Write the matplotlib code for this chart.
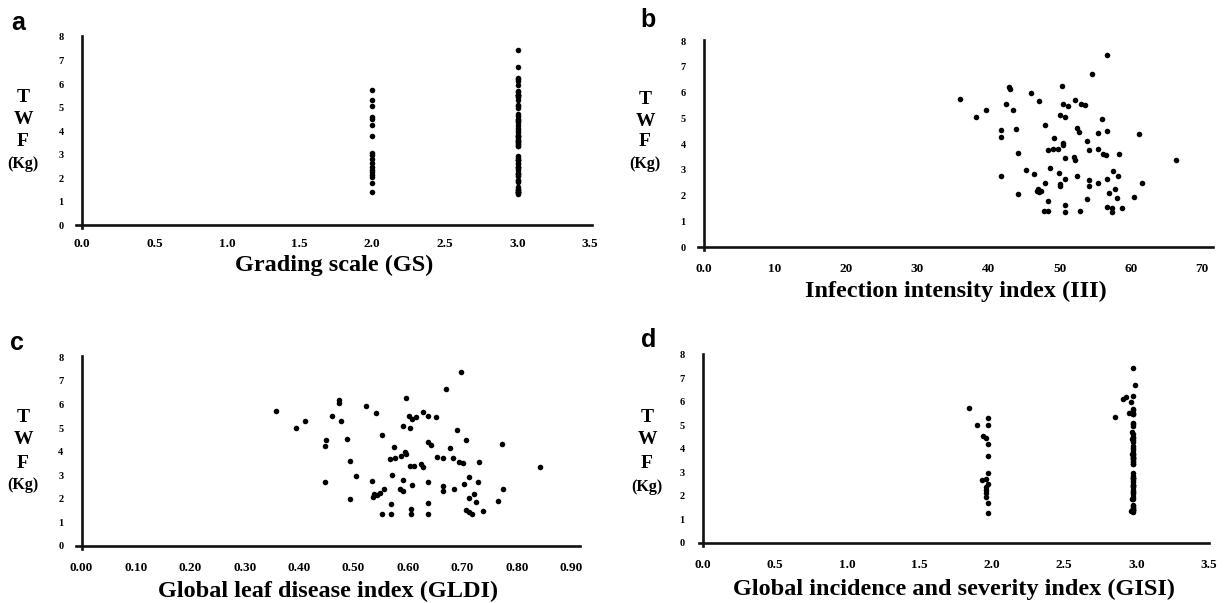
"""Four-panel scatter: total weight of fruit (TWF) against disease indices."""

import matplotlib
matplotlib.use("Agg")
import matplotlib.pyplot as plt
import numpy as np

W, H = 1228, 603

plt.rcParams.update({
    "font.family": "Liberation Serif",
    "font.weight": "bold",
    "figure.facecolor": "white",
    "axes.facecolor": "white",
})

# ----- data
GS_LEVELS = [2.0, 3.0]
twf_gs2 = [5.76, 5.34, 5.08, 4.62, 4.53, 4.27, 3.78, 3.08, 2.97, 2.81, 2.65,
           2.47, 2.36, 2.25, 2.13, 2.04, 1.82, 1.40]
twf_gs3 = [7.44, 6.71, 6.25, 6.21, 6.14, 5.98, 5.72, 5.67, 5.54, 5.54, 5.54,
           5.50, 5.47, 5.34, 5.12, 5.05, 4.97, 4.73, 4.64, 4.51, 4.47, 4.43,
           4.38, 4.28, 4.12, 4.04, 3.95, 3.82, 3.79, 3.79, 3.76, 3.66, 3.60,
           3.60, 3.57, 3.50, 3.44, 3.37, 3.37, 2.96, 2.86, 2.76, 2.76, 2.76,
           2.66, 2.60, 2.47, 2.47, 2.44, 2.36, 2.24, 2.18, 2.18, 2.08, 1.95,
           1.89, 1.86, 1.63, 1.56, 1.50, 1.50, 1.41, 1.41, 1.41, 1.37, 1.33]

iii = [56.6, 54.6, 50.3, 42.9, 43.0, 45.9, 36.0, 47.1, 52.1, 42.5, 50.5, 51.2,
       53.0, 53.5, 39.7, 43.5, 38.2, 50.1, 50.8, 55.9, 48.0, 43.9, 41.8, 41.7,
       52.4, 52.7, 56.6, 55.4, 61.1, 49.2, 53.8, 50.4, 50.4, 48.4, 49.0, 49.7,
       54.1, 55.4, 56.1, 56.5, 58.3, 44.1, 50.8, 52.0, 52.1, 66.4, 48.7, 45.2,
       57.5, 41.7, 46.4, 49.9, 52.5, 58.2, 56.6, 50.8, 54.1, 54.1, 55.4, 47.9,
       50.0, 50.0, 46.9, 46.8, 47.1, 47.4, 61.5, 57.8, 56.9, 44.2, 58.1, 60.5,
       53.9, 48.4, 50.8, 50.8, 56.6, 58.7, 57.3, 57.4, 47.8, 48.4, 52.8]
twf_iii = [7.44, 6.71, 6.25, 6.21, 6.14, 5.98, 5.76, 5.67, 5.72, 5.54, 5.54,
           5.47, 5.54, 5.50, 5.34, 5.34, 5.05, 5.12, 5.05, 4.97, 4.73, 4.60,
           4.53, 4.28, 4.64, 4.47, 4.51, 4.43, 4.38, 4.25, 4.12, 4.04, 3.95,
           3.76, 3.79, 3.82, 3.76, 3.79, 3.60, 3.57, 3.60, 3.66, 3.44, 3.50,
           3.37, 3.37, 3.07, 2.98, 2.96, 2.76, 2.82, 2.86, 2.76, 2.76, 2.66,
           2.64, 2.60, 2.36, 2.47, 2.47, 2.44, 2.36, 2.27, 2.18, 2.14, 2.18,
           2.47, 2.24, 2.08, 2.05, 1.89, 1.95, 1.86, 1.80, 1.63, 1.37, 1.56,
           1.50, 1.50, 1.37, 1.41, 1.41, 1.41]

gldi = [0.357, 0.395, 0.411, 0.461, 0.473, 0.473, 0.477, 0.450, 0.447, 0.487,
        0.447, 0.494, 0.504, 0.493, 0.522, 0.542, 0.552, 0.533, 0.538, 0.543,
        0.549, 0.555, 0.536, 0.552, 0.569, 0.568, 0.571, 0.575, 0.566, 0.577,
        0.587, 0.595, 0.596, 0.590, 0.585, 0.590, 0.597, 0.591, 0.603, 0.601,
        0.608, 0.615, 0.603, 0.611, 0.608, 0.605, 0.605, 0.628, 0.637, 0.651,
        0.623, 0.628, 0.637, 0.642, 0.653, 0.637, 0.637, 0.637, 0.669, 0.665,
        0.683, 0.665, 0.665, 0.678, 0.684, 0.690, 0.698, 0.693, 0.701, 0.707,
        0.702, 0.712, 0.707, 0.713, 0.718, 0.712, 0.722, 0.730, 0.729, 0.725,
        0.737, 0.772, 0.775, 0.765, 0.842]
twf_gldi = [5.71, 5.01, 5.29, 5.50, 6.18, 6.08, 5.29, 4.51, 4.24, 4.55, 2.71,
            3.61, 2.95, 2.00, 5.93, 5.62, 4.70, 2.75, 2.22, 2.15, 2.25, 2.41,
            2.07, 1.37, 1.37, 1.76, 3.02, 4.19, 3.70, 3.73, 3.80, 4.00, 3.90,
            2.79, 2.41, 2.32, 6.27, 5.07, 5.02, 5.50, 5.40, 5.45, 3.39, 3.39,
            2.57, 1.58, 1.37, 5.68, 5.50, 5.45, 3.49, 3.35, 4.41, 4.27, 3.77,
            2.71, 1.82, 1.37, 6.67, 3.73, 3.73, 2.53, 2.32, 4.17, 2.41, 4.91,
            7.39, 3.56, 3.53, 4.48, 2.64, 2.92, 1.51, 1.44, 1.35, 2.03, 2.22,
            3.56, 2.71, 1.85, 1.47, 4.33, 2.41, 1.92, 3.35]

gisi = [1.84, 1.97, 1.90, 1.97, 1.94, 1.96, 1.97, 1.97, 1.97, 1.93, 1.96, 1.97,
        1.96, 1.96, 1.96, 1.96, 1.97, 1.97,
        2.98, 2.99, 2.98, 2.93, 2.91, 2.96, 2.98, 2.98, 2.97, 2.95, 2.98, 2.98,
        2.98, 2.85, 2.98, 2.98, 2.98, 2.97, 2.98, 2.98, 2.98, 2.97, 2.98, 2.98,
        2.98, 2.98, 2.98, 2.98, 2.97, 2.98, 2.98, 2.98, 2.98, 2.98, 2.98, 2.98,
        2.98, 2.98, 2.98, 2.98, 2.98, 2.98, 2.98, 2.98, 2.98, 2.98, 2.98, 2.98,
        2.98, 2.98, 2.98, 2.98, 2.98, 2.98, 2.98, 2.97, 2.98, 2.98, 2.98, 2.98,
        2.98, 2.98, 2.98, 2.98, 2.96, 2.98]
twf_gisi = [5.73, 5.30, 5.00, 5.03, 4.55, 4.48, 4.20, 3.69, 2.97, 2.66, 2.73,
            2.50, 2.40, 2.26, 2.11, 1.97, 1.68, 1.29,
            7.44, 6.71, 6.25, 6.21, 6.14, 5.98, 5.72, 5.67, 5.54, 5.54, 5.54,
            5.50, 5.47, 5.34, 5.12, 5.05, 4.97, 4.73, 4.64, 4.51, 4.47, 4.43,
            4.38, 4.28, 4.12, 4.04, 3.95, 3.82, 3.79, 3.79, 3.76, 3.66, 3.60,
            3.60, 3.57, 3.50, 3.44, 3.37, 3.37, 2.96, 2.86, 2.76, 2.76, 2.76,
            2.66, 2.60, 2.47, 2.47, 2.44, 2.36, 2.24, 2.18, 2.18, 2.08, 1.95,
            1.89, 1.86, 1.63, 1.56, 1.50, 1.50, 1.41, 1.41, 1.41, 1.37, 1.33]

Y_TICKS = list(range(0, 9))


def fpos(x, y):
    """pixel position -> figure fraction"""
    return x / W, 1 - y / H


def style_axes(ax, xlim, xticks, xticklabels, xlabel, xpad, label_pad):
    ax.set_xlim(*xlim)
    ax.set_ylim(-0.12, 8.05)
    ax.spines["left"].set_position(("data", 0))
    ax.spines["bottom"].set_position(("data", 0))
    ax.spines["top"].set_visible(False)
    ax.spines["right"].set_visible(False)
    for s in ("left", "bottom"):
        ax.spines[s].set_linewidth(1.9)
        ax.spines[s].set_color("#111111")
    ax.set_xticks(xticks)
    ax.set_xticklabels(xticklabels, fontsize=9.5, fontweight="bold")
    ax.set_yticks(Y_TICKS)
    ax.set_yticklabels([str(v) for v in Y_TICKS], fontsize=7.5, fontweight="bold")
    ax.tick_params(axis="x", length=0, pad=xpad)
    ax.tick_params(axis="y", length=0, pad=13)
    ax.set_xlabel(xlabel, fontsize=17.5, fontweight="bold", labelpad=label_pad)


def twf_label(fig, x, ys):
    for letter, y in zip("TWF", ys[:3]):
        fig.text(*fpos(x, y), letter, ha="center", va="center",
                 fontsize=14, fontweight="bold")
    fig.text(*fpos(x, ys[3]), "(Kg)", ha="center", va="center",
             fontsize=11.5, fontweight="bold")


fig = plt.figure(figsize=(W / 100, H / 100), dpi=100)

dot = dict(s=16, color="black", linewidths=0, zorder=3)

# ----- a
ax_a = fig.add_axes([0.0618, 0.6214, 0.420, 0.3192])
ax_a.scatter(np.full(len(twf_gs2), GS_LEVELS[0]), twf_gs2, **dot)
ax_a.scatter(np.full(len(twf_gs3), GS_LEVELS[1]), twf_gs3, **dot)
gs_ticks = np.arange(0, 3.51, 0.5)
style_axes(ax_a, (-0.04, 3.51), gs_ticks, [f"{v:.1f}" for v in gs_ticks],
           "Grading scale (GS)", 8.8, 4)

# ----- b
ax_b = fig.add_axes([0.5686, 0.5852, 0.4189, 0.3489])
ax_b.scatter(iii, twf_iii, **dot)
iii_ticks = np.arange(0, 71, 10)
style_axes(ax_b, (-0.8, 71.5), iii_ticks,
           ["0.0"] + [str(v) for v in iii_ticks[1:]],
           "Infection intensity index (III)", 11.8, 4)

# ----- c
ax_c = fig.add_axes([0.0620, 0.0899, 0.4107, 0.3196])
ax_c.scatter(gldi, twf_gldi, **dot)
gldi_ticks = np.arange(0, 0.91, 0.1)
style_axes(ax_c, (-0.01, 0.917), gldi_ticks,
           [f"{v:.2f}" for v in gldi_ticks],
           "Global leaf disease index (GLDI)", 11.5, 5)

# ----- d
ax_d = fig.add_axes([0.5689, 0.0949, 0.4153, 0.3184])
ax_d.scatter(gisi, twf_gisi, **dot)
style_axes(ax_d, (-0.03, 3.48), gs_ticks, [f"{v:.1f}" for v in gs_ticks],
           "Global incidence and severity index (GISI)", 11.2, 6)

# ----- y labels and panel letters
twf_label(fig, 23, (97, 119, 142, 164))
twf_label(fig, 645, (100, 122, 142, 164))
twf_label(fig, 23, (417, 440, 463, 485))
twf_label(fig, 647, (417, 440, 463, 487))

for letter, (x, y) in zip("abcd", [(18, 23), (648, 20), (17, 343), (649, 340)]):
    fig.text(*fpos(x, y), letter, ha="center", va="center", fontsize=18,
             fontweight="bold", family="Liberation Sans")

fig.savefig("out.png", dpi=100)
